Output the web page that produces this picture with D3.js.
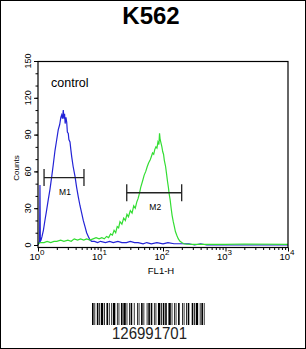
<!DOCTYPE html>
<html><head><meta charset="utf-8">
<script src="https://cdn.jsdelivr.net/npm/d3@7/dist/d3.min.js"></script>
<style>
body{margin:0;background:#fff}
svg{display:block}
text{font-family:"Liberation Sans",Arial,Helvetica,sans-serif;fill:#000}
</style>
</head><body>
<svg id="chart" width="306" height="349"></svg>
<script>
// ---- data ----
const title = "K562";
const sampleLabel = "control";
const xLabel = "FL1-H";
const yLabel = "Counts";
const xDecades = [1, 10, 100, 1000, 10000];
const xExponents = ["0", "1", "2", "3", "4"];
const yTickLabels = [0, 30, 60, 90, 120, 150];
const yMinorTicks = [0, 10, 20, 30, 40, 50, 60, 70, 80, 90, 100, 110, 120, 130, 140, 150];

// control (blue) histogram
const controlX = [1.00, 1.04, 1.06, 1.075, 1.09, 1.12, 1.16, 1.22, 1.29, 1.36, 1.46, 1.55, 1.66, 1.76, 1.87, 1.98,
  2.11, 2.22, 2.32, 2.39, 2.46, 2.54, 2.60, 2.66, 2.72, 2.80, 2.88, 2.95, 3.05, 3.12, 3.25, 3.35, 3.46, 3.65,
  3.91, 4.15, 4.42, 4.70, 5.00, 5.30, 5.65, 6.00, 6.38, 6.80, 7.23, 8, 9, 10, 12, 14, 16, 19, 22, 26, 30, 35,
  40, 48, 55, 65, 80, 100, 120, 150, 200, 260, 320, 400, 500, 10000];
const controlY = [0, 2, 3, 49, 3, 4, 7, 12, 20, 27, 37, 45, 56, 66, 77, 85,
  94, 98, 104, 106, 103, 110, 103, 107, 99, 104, 100, 92, 91, 86, 84, 78, 72, 64,
  56, 47, 39, 32, 26, 20, 15, 10, 7, 4, 3, 3, 2, 3, 2, 3, 2, 3, 2, 2, 3, 2,
  2, 1, 2, 1, 2, 1, 2, 1, 1, 1, 0, 1, 0, 0];

// stained sample (green) histogram
const sampleX = [1.00, 1.1, 1.25, 1.4, 1.6, 1.8, 2.0, 2.3, 2.6, 3.0, 3.4, 3.8, 4.3, 4.8, 5.4, 6.0, 6.8, 7.6, 8.5, 9.5,
  10.5, 11.5, 12.5, 13.5, 14.5, 15.5, 16.5, 17.5, 18.5, 19.5, 20.5, 22, 23.5, 25, 26.5, 28, 30, 32, 34, 36,
  38, 40, 42, 44, 47, 50, 53, 56, 59, 62, 65, 68, 71, 74, 77, 80, 83, 86, 88, 90, 93, 96, 99, 102, 105,
  110, 114, 118, 122, 126, 130, 135, 140, 146, 152, 158, 166, 176, 187, 200, 215, 240, 300, 1000, 2000, 10000];
const sampleY = [1, 2, 2, 3, 2, 3, 3, 4, 3, 4, 3, 5, 4, 5, 4, 5, 4, 5, 6, 5,
  6, 5, 7, 6, 9, 8, 12, 10, 15, 14, 19, 17, 22, 20, 25, 23, 28, 26, 32, 30,
  35, 38, 42, 47, 52, 57, 60, 64, 67, 69, 72, 75, 74, 78, 80, 79, 84, 82, 91, 86, 83, 80, 76, 74, 69,
  64, 58, 52, 47, 41, 37, 30, 24, 19, 15, 11, 8, 5, 3, 2, 1, 0.6, 0.5, 0.5, 0.8, 0.5];

// gates
const markerNames = ["M1", "M2"];
const markerStart = [1.25, 26.3];
const markerEnd = [5.44, 199];
const markerLevel = [55, 42.6];

// barcode
const barcodeText = "126991701";
const barcodeWidths = [2,1,1,2,2,1,1,1,3,1,1,2,2,1,1,2,1,1,3,2,1,1,1,2,2,1,3,1,1,2,1,1,2,2,1,3,1,1,1,2,2,1,1,3,
  1,1,2,1,2,2,1,1,1,2,3,1,1,1,2,1,2,2,3,1,1,2,1,1,1,2,2,3,1,1,1,2,1,1,2,3,2,1,1,1,3,2,1,1,2,1,1,3];

// ---- drawing ----
const svg = d3.select("#chart");
const W = 306, H = 349;
const plot = {left: 38, right: 288, top: 61, bottom: 247};

svg.append("rect").attr("x", 0.5).attr("y", 0.5).attr("width", W - 1).attr("height", H - 1)
  .attr("fill", "#fff").attr("stroke", "#000").attr("stroke-width", 1);

svg.append("text").attr("x", 151).attr("y", 24).attr("text-anchor", "middle")
  .style("font-size", "24px").style("font-weight", "bold").text(title);

const x = d3.scaleLog().domain([1, 10000]).range([plot.left, plot.right]);
const y = d3.scaleLinear().domain([0, 150]).range([245, plot.top]);

// curves
const line = d3.line().x(d => x(d[0])).y(d => y(d[1]));
svg.append("path").datum(controlX.map((v, i) => [v, controlY[i]]))
  .attr("d", line).attr("fill", "none").attr("stroke", "#2323d6").attr("stroke-width", 1.2);
svg.append("path").datum(sampleX.map((v, i) => [v, sampleY[i]]))
  .attr("d", line).attr("fill", "none").attr("stroke", "#33dd33").attr("stroke-width", 1.2);

// frame
svg.append("rect").attr("x", plot.left).attr("y", plot.top + 0.5)
  .attr("width", plot.right - plot.left).attr("height", plot.bottom - plot.top)
  .attr("fill", "none").attr("stroke", "#000").attr("stroke-width", 1.2);

// y axis
const gy = svg.append("g").attr("transform", `translate(${plot.left},0)`)
  .call(d3.axisLeft(y).tickValues(yMinorTicks).tickSize(2.5).tickFormat(""));
gy.select(".domain").remove();
const gy2 = svg.append("g").attr("transform", `translate(${plot.left},0)`)
  .call(d3.axisLeft(y).tickValues(yTickLabels).tickSize(4).tickFormat(""));
gy2.select(".domain").remove();
svg.selectAll(".tick line").attr("stroke", "#000");
svg.append("g").selectAll("text").data(yTickLabels).join("text")
  .attr("transform", d => `translate(${30.5},${y(d)}) rotate(-90)`)
  .attr("text-anchor", "middle").style("font-size", "9px").text(d => d);
svg.append("text").attr("transform", `translate(18.5,168) rotate(-90)`)
  .attr("text-anchor", "middle").style("font-size", "8px").text(yLabel);

// x axis (log minor ticks)
const xMinor = [];
xDecades.slice(0, -1).forEach(dv => { for (let k = 2; k <= 9; k++) xMinor.push(dv * k); });
const gx = svg.append("g").attr("transform", `translate(0,${plot.bottom + 0.5})`)
  .call(d3.axisBottom(x).tickValues(xMinor).tickSize(2.5).tickFormat(""));
gx.select(".domain").remove();
const gx2 = svg.append("g").attr("transform", `translate(0,${plot.bottom + 0.5})`)
  .call(d3.axisBottom(x).tickValues(xDecades).tickSize(4).tickFormat(""));
gx2.select(".domain").remove();
svg.selectAll(".tick line").attr("stroke", "#000");
const xl = svg.append("g").selectAll("text").data(xDecades).join("text")
  .attr("x", d => x(d) - 1).attr("y", 260).attr("text-anchor", "middle").style("font-size", "9.5px");
xl.append("tspan").text("10");
xl.append("tspan").attr("dy", -5).style("font-size", "8px").text((d, i) => xExponents[i]);
svg.append("text").attr("x", 161).attr("y", 274).attr("text-anchor", "middle")
  .style("font-size", "9.5px").text(xLabel);

// sample label
svg.append("text").attr("x", 51).attr("y", 86.5).style("font-size", "12.5px").text(sampleLabel);

// markers
markerNames.forEach((name, i) => {
  const x0 = x(markerStart[i]), x1 = x(markerEnd[i]), yy = y(markerLevel[i]);
  const g = svg.append("g").attr("stroke", "#222").attr("stroke-width", 1.3);
  g.append("line").attr("x1", x0).attr("x2", x1).attr("y1", yy).attr("y2", yy);
  g.append("line").attr("x1", x0).attr("x2", x0).attr("y1", yy - 8.5).attr("y2", yy + 8.5);
  g.append("line").attr("x1", x1).attr("x2", x1).attr("y1", yy - 8.5).attr("y2", yy + 8.5);
  svg.append("text").attr("x", x(Math.sqrt(markerStart[i] * markerEnd[i])) + 1).attr("y", yy + 17)
    .attr("text-anchor", "middle").style("font-size", "8.5px").text(name);
});

// barcode
const total = d3.sum(barcodeWidths);
const bx = d3.scaleLinear().domain([0, total]).range([92, 207]);
let acc = 0;
const bars = [];
barcodeWidths.forEach((w, i) => { if (i % 2 === 0) bars.push([acc, w]); acc += w; });
svg.append("g").selectAll("rect").data(bars).join("rect")
  .attr("x", d => bx(d[0])).attr("width", d => bx(d[0] + d[1]) - bx(d[0]))
  .attr("y", 303).attr("height", 22).attr("fill", "#000");
svg.append("text").attr("x", 149.5).attr("y", 339).attr("text-anchor", "middle")
  .attr("textLength", 75).attr("lengthAdjust", "spacingAndGlyphs")
  .style("font-size", "16px").style("fill", "#222").text(barcodeText);
</script>
</body></html>
